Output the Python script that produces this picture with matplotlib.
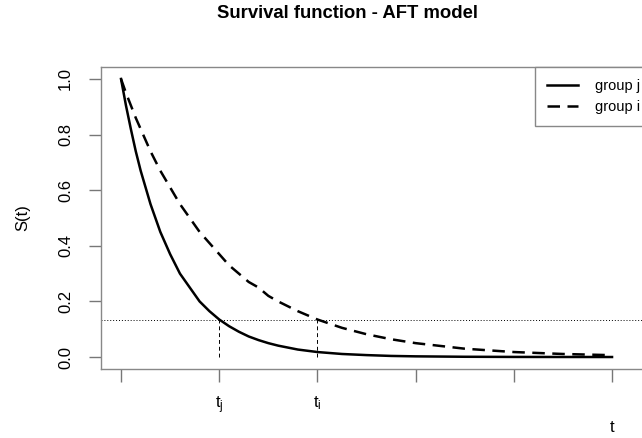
import matplotlib
matplotlib.use("Agg")
import matplotlib.pyplot as plt

plt.rcParams['font.family'] = ['Liberation Sans', 'DejaVu Sans']

# values
t = [0, 0.05, 0.1, 0.15, 0.2, 0.25, 0.3, 0.35, 0.4, 0.45, 0.5, 0.6, 0.7, 0.8, 0.9,
     1.0, 1.1, 1.2, 1.3, 1.4, 1.5, 1.6, 1.8, 2.0, 2.25, 2.5, 2.75, 3.0, 3.5, 4.0, 4.5, 5.0]
s_j = [1.0, 0.905, 0.82, 0.74, 0.67, 0.61, 0.55, 0.50, 0.45, 0.41, 0.37, 0.30, 0.25,
       0.20, 0.165, 0.135, 0.111, 0.091, 0.074, 0.061, 0.050, 0.041, 0.027, 0.018,
       0.011, 0.007, 0.004, 0.0025, 0.001, 0.0004, 0.0002, 0.0001]
s_i = [1.0, 0.95, 0.905, 0.86, 0.82, 0.78, 0.74, 0.705, 0.67, 0.64, 0.61, 0.55, 0.50,
       0.45, 0.41, 0.37, 0.33, 0.30, 0.27, 0.25, 0.22, 0.20, 0.165, 0.135, 0.105,
       0.082, 0.064, 0.050, 0.030, 0.018, 0.011, 0.0067]
s_level = 0.135
t_marks = [1.0, 2.0]
x_ticks = [0, 1, 2, 3, 4, 5]
x_ticklabels = ['', r'$\mathregular{t_j}$', r'$\mathregular{t_i}$', '', '', '']
y_ticks = [0.0, 0.2, 0.4, 0.6, 0.8, 1.0]

fig = plt.figure(figsize=(6.42, 4.38), dpi=100)
ax = fig.add_axes([101/642, 69/438, 560/642, 302/438])

ax.plot(t, s_j, color='black', lw=1.8, label='group j')
ax.plot(t, s_i, color='black', lw=1.8, ls=(0, (5, 3)), label='group i')
ax.axhline(s_level, color='black', lw=0.7, ls=(0, (1, 2)))
for tm in t_marks:
    ax.plot([tm, tm], [0, s_level], color='black', lw=0.7, ls=(0, (4, 3)))

ax.set_xlim(-0.204, -0.204 + 560/98.2)
ax.set_ylim(-0.043, 1.043)
ax.set_xticks(x_ticks)
ax.set_xticklabels(x_ticklabels, fontsize=12)
ax.set_yticks(y_ticks)
ax.set_yticklabels(['%.1f' % v for v in y_ticks], rotation=90, va='center', fontsize=12)
ax.tick_params(length=9, width=1, color='#777777', pad=11)
ax.tick_params(axis='x', pad=9)
for sp in ax.spines.values():
    sp.set_color('#888888')
    sp.set_linewidth(1)

ax.set_ylabel('S(t)', fontsize=12, labelpad=20)
ax.text(5, -0.255, 't', ha='center', va='center', fontsize=12)
fig.text(347/642, 1 - 14/438, 'Survival function - AFT model', ha='center', va='center',
         fontsize=13.3, fontweight='bold')

leg = ax.legend(loc='upper left', bbox_to_anchor=((535 - 101) / 560, 1.0), borderaxespad=0,
                fancybox=False, fontsize=10.5, handlelength=2.1, handletextpad=1.15,
                edgecolor='#888888', framealpha=1, borderpad=0.85, labelspacing=0.45)
leg.get_frame().set_linewidth(1)

fig.savefig('out.png', dpi=100)
